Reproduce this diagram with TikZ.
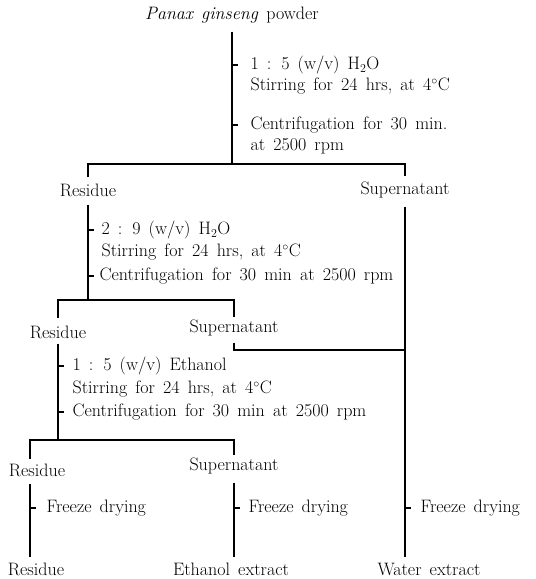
\documentclass[tikz,border=0pt]{standalone}
\usepackage{tikz}
\usetikzlibrary{positioning,calc}

\newcommand{\flowfont}{\fontsize{18}{21}\selectfont\spaceskip=0.45em plus 0.1em minus 0.05em\relax}

\begin{document}
\begin{tikzpicture}[x=1pt, y=-1pt, line width=1.2pt,
    lbl/.style={font=\flowfont, inner sep=2pt},
    note/.style={font=\flowfont, anchor=west, inner sep=0pt}]
    \useasboundingbox (0,0) rectangle (536,579);

    % Starting material
    \node[lbl] (pg) at (232,15) {\textit{Panax ginseng} powder};

    % First water extraction
    \coordinate (j1) at (232,164);
    \draw[shorten <=6pt] (pg.south) -- (j1);
    \node[note] (n11) at (250,65) {1 : 5 (w/v) H$_2$O};
    \node[note] (n12) at (250,86) {Stirring for 24 hrs, at 4$^{\circ}$C};
    \node[note] (n13) at (250,125) {Centrifugation for 30 min.};
    \node[note] (n14) at (250,146) {at 2500 rpm};
    \draw (j1 |- n11.west) -- ++(6,0);
    \draw (j1 |- n13.west) -- ++(6,0);

    \node[lbl] (res1) at (88,190) {Residue};
    \node[lbl] (sup1) at (405,190) {Supernatant};
    \draw[shorten <=4pt, shorten >=3pt] (res1.north) |- (j1) -| (sup1.north);

    % Second water extraction
    \coordinate (j2) at (88,300);
    \draw[shorten <=6pt] (res1.south) -- (j2);
    \node[note] (n21) at (101,230) {2 : 9 (w/v) H$_2$O};
    \node[note] (n22) at (101,252) {Stirring for 24 hrs, at 4$^{\circ}$C};
    \node[note] (n23) at (99,276) {Centrifugation for 30 min at 2500 rpm};
    \draw (j2 |- n21.west) -- ++(6,0);
    \draw (j2 |- n23.west) -- ++(6,0);

    \node[lbl] (res2) at (58,332) {Residue};
    \node[lbl] (sup2) at (234,328) {Supernatant};
    \draw[shorten <=5pt] (res2.north) |- (j2) -| (sup2.north);

    % Both supernatants go to the water extract
    \coordinate (m2) at (405,350);
    \draw[shorten <=4pt] (sup2.south) |- (m2);

    % Ethanol extraction
    \coordinate (j3) at (58,440);
    \draw[shorten <=3pt] (res2.south) -- (j3);
    \node[note] (n31) at (72,366) {1 : 5 (w/v) Ethanol};
    \node[note] (n32) at (72,389) {Stirring for 24 hrs, at 4$^{\circ}$C};
    \node[note] (n33) at (72,412) {Centrifugation for 30 min at 2500 rpm};
    \draw (j3 |- n31.west) -- ++(6,0);
    \draw (j3 |- n33.west) -- ++(6,0);

    \node[lbl] (res3) at (37,470) {Residue};
    \node[lbl] (sup3) at (234,466) {Supernatant};
    \draw[shorten <=2pt] ([xshift=-7pt]res3.north) |- (j3) -| (sup3.north);

    % Freeze drying
    \node[lbl] (res4) at (36,569) {Residue};
    \node[lbl] (eth) at (231,569) {Ethanol extract};
    \node[lbl] (wat) at (429,569) {Water extract};
    \draw[shorten <=5pt, shorten >=3pt] ([xshift=-7pt]res3.south) -- ([xshift=-6pt]res4.north);
    \draw[shorten <=6pt, shorten >=3pt] (sup3.south) -- (sup3.south |- eth.north);
    \draw[shorten <=6pt, shorten >=3pt] (sup1.south) -- (sup1.south |- wat.north);
    \node[note] (f1) at (46,508) {Freeze drying};
    \node[note] (f2) at (248,508) {Freeze drying};
    \node[note] (f3) at (420,508) {Freeze drying};
    \draw ([xshift=-7pt]res3.south |- f1.west) -- ++(6,0);
    \draw (sup3.south |- f2.west) -- ++(6,0);
    \draw (sup1.south |- f3.west) -- ++(6,0);
\end{tikzpicture}
\end{document}
